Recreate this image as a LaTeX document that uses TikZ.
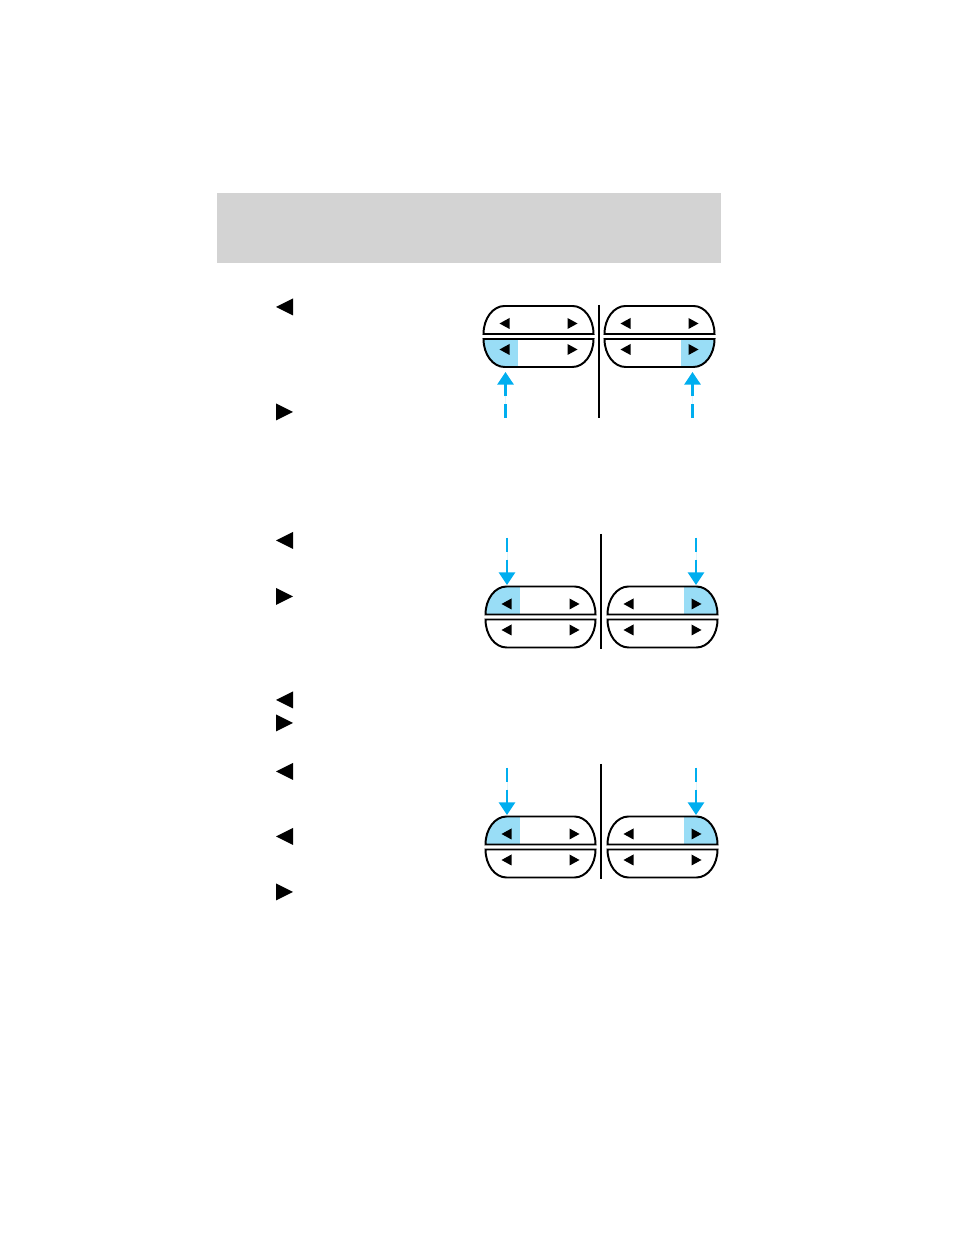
\documentclass[tikz,border=0pt]{standalone}
\usetikzlibrary{arrows.meta}

\definecolor{headgrey}{RGB}{211,211,211}
\definecolor{pushblue}{RGB}{0,174,239}
\definecolor{litblue}{RGB}{153,221,246}

% the two pads of a rocker switch, around its split line
\newcommand{\padtop}{(-55,2.5) arc[start angle=180,end angle=90,x radius=21,y radius=28] -- (34,30.5) arc[start angle=90,end angle=0,x radius=21,y radius=28] -- cycle}
\newcommand{\padbot}{(-55,-2.5) arc[start angle=180,end angle=270,x radius=21,y radius=28] -- (34,-30.5) arc[start angle=270,end angle=360,x radius=21,y radius=28] -- cycle}
% lit part of a pad: centre, pad, corner, corner
\newcommand{\litpad}[4]{\begin{scope}[shift={(#1)}]\clip #2; \fill[lit] (#3) rectangle (#4);\end{scope}}

\tikzset{
  pics/rocker/.style={code={
    \draw[pad] \padtop;
    \draw[pad] \padbot;
    \foreach \ty in {13,-13} {
      \fill (-34,\ty) ++(-5,0) -- ++(10,5.5) -- ++(0,-11) -- cycle;
      \fill (34,\ty) ++(5,0) -- ++(-10,5.5) -- ++(0,-11) -- cycle;
    }
  }}
}

\begin{document}
\begin{tikzpicture}[x=0.025cm, y=0.025cm, >={Triangle[length=9pt,width=11.5pt]},
    pad/.style={line width=1.4pt},
    divider/.style={line width=1.4pt},
    lit/.style={fill=litblue},
    push/.style={->, draw=pushblue, fill=pushblue, line width=1.8pt, dash pattern=on 0.36cm off 0.18cm}]
    \useasboundingbox (0,0) rectangle (954,1235);

    \fill[headgrey] (217,972) rectangle (721,1042);

    % arrows in the text column
    \foreach \ty/\dir in {928/-1, 823/1, 694.5/-1, 638.5/1, 535/-1, 512/1, 463.5/-1, 398.5/-1, 343/1} {
      \fill (284.5,\ty) ++(8.5*\dir,0) -- ++(-17*\dir,8.5) -- ++(0,-17) -- cycle;
    }

    % first pair: lower pads
    \litpad{538.5,898.5}{\padbot}{-60,-35}{-21,0}
    \litpad{659.5,898.5}{\padbot}{21,-35}{60,0}
    \pic (swAl) at (538.5,898.5) {rocker};
    \pic (swAr) at (659.5,898.5) {rocker};
    \coordinate (divAt) at (599,930);
    \coordinate (divAb) at (599,817);
    \draw[divider] (divAt) -- (divAb);
    \coordinate (pAl) at (505.5,817);
    \coordinate (tAl) at (505.5,863);
    \coordinate (pAr) at (692.5,817);
    \coordinate (tAr) at (692.5,863);
    \draw[push] (pAl) -- (tAl);
    \draw[push] (pAr) -- (tAr);

    % second and third pair: upper pads
    \foreach \n/\cy in {B/618, C/388} {
      \litpad{540.5,\cy}{\padtop}{-60,0}{-21,35}
      \litpad{662.5,\cy}{\padtop}{21,0}{60,35}
      \pic (sw\n l) at (540.5,\cy) {rocker};
      \pic (sw\n r) at (662.5,\cy) {rocker};
      \coordinate (div\n t) at (601,\cy+83);
      \coordinate (div\n b) at (601,\cy-32);
      \draw[divider] (div\n t) -- (div\n b);
      \coordinate (p\n l) at (507,\cy+79);
      \coordinate (t\n l) at (507,\cy+32);
      \coordinate (p\n r) at (696,\cy+79);
      \coordinate (t\n r) at (696,\cy+32);
      \draw[push] (p\n l) -- (t\n l);
      \draw[push] (p\n r) -- (t\n r);
    }
\end{tikzpicture}
\end{document}
